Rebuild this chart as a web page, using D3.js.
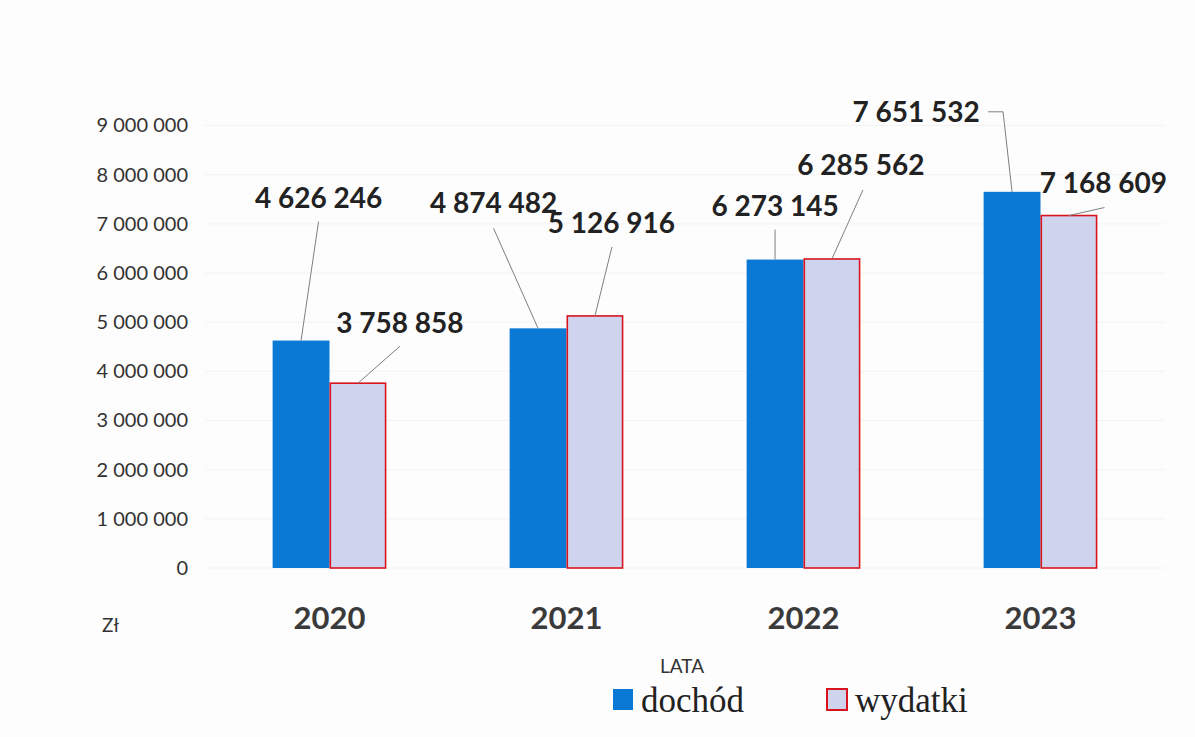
<!DOCTYPE html>
<html>
<head>
<meta charset="utf-8">
<script src="https://cdn.jsdelivr.net/npm/d3@7"></script>
<style>
  body { margin: 0; background: #fdfdfd; }
  svg { display: block; }
</style>
</head>
<body>
<svg id="chart" width="1195" height="737"></svg>
<script>
// Data
const years = ['2020', '2021', '2022', '2023'];
const seriesNames = ['dochód', 'wydatki'];
const dochod = [4626246, 4874482, 6273145, 7651532];
const wydatki = [3758858, 5126916, 6285562, 7168609];
const yTicks = [0, 1000000, 2000000, 3000000, 4000000, 5000000, 6000000, 7000000, 8000000, 9000000];

// Label placement relative to the top centre of each bar: [label dx, label dy, leader points...]
const labelLayout = {
  'dochód': [
    { dx: 17.5, dy: -133, pts: [[17.5, -119]] },
    { dx: -44.5, dy: -115, pts: [[-44.5, -100]] },
    { dx: 0, dy: -44, pts: [[0, -30]] },
    { dx: -96, dy: -70, pts: [[-24, -80], [-9, -80]] },
  ],
  'wydatki': [
    { dx: 42, dy: -50, pts: [[42, -37]] },
    { dx: 16.5, dy: -83, pts: [[17, -69]] },
    { dx: 29, dy: -84, pts: [[31, -69]] },
    { dx: 34.5, dy: -23, pts: [[35.5, -8]] },
  ],
};

const colors = { 'dochód': '#0a79d6', 'wydatki': '#cfd4ee' };
const strokes = { 'dochód': 'none', 'wydatki': '#d9141e' };

const rows = years.map((year, i) => ({ year, 'dochód': dochod[i], 'wydatki': wydatki[i] }));

const svg = d3.select('#chart');
const fmt = d3.formatLocale({ decimal: ',', thousands: ' ', grouping: [3], currency: ['', ''] }).format(',d');

// Scales
const x = d3.scaleBand().domain(years).range([211, 1159]).paddingInner(0.52).paddingOuter(0.26);
const xs = d3.scaleBand().domain(seriesNames).range([0, x.bandwidth()]);
const y = d3.scaleLinear().domain([0, 9000000]).range([568, 125.5]);

// Very faint gridlines
svg.append('g')
  .selectAll('line')
  .data(yTicks)
  .join('line')
  .attr('x1', 205)
  .attr('x2', 1165)
  .attr('y1', (d) => y(d))
  .attr('y2', (d) => y(d))
  .attr('stroke', '#f3f3f3')
  .attr('stroke-width', 1);

// Y axis (labels only)
const yAxis = svg.append('g')
  .attr('transform', 'translate(188,0)')
  .call(d3.axisLeft(y).tickValues(yTicks).tickFormat(fmt).tickSize(0).tickPadding(0));
yAxis.select('.domain').remove();
yAxis.selectAll('text')
  .style('font-family', 'Lato, sans-serif')
  .style('font-size', '20px')
  .attr('fill', '#333');

// Bars
const groups = svg.append('g')
  .selectAll('g')
  .data(rows)
  .join('g')
  .attr('transform', (d) => `translate(${x(d.year)},0)`);

groups.selectAll('rect')
  .data((d) => seriesNames.map((s) => ({ s, v: d[s] })))
  .join('rect')
  .attr('x', (d) => xs(d.s) + (d.s === 'wydatki' ? 0.8 : 0))
  .attr('width', (d) => xs.bandwidth() - (d.s === 'wydatki' ? 1.6 : 0))
  .attr('y', (d) => y(d.v))
  .attr('height', (d) => y(0) - y(d.v))
  .attr('fill', (d) => colors[d.s])
  .attr('stroke', (d) => strokes[d.s])
  .attr('stroke-width', 1.6);

// Data labels with leader lines
const labels = [];
seriesNames.forEach((s) => {
  const values = s === 'dochód' ? dochod : wydatki;
  values.forEach((v, i) => {
    const bx = x(years[i]) + xs(s) + xs.bandwidth() / 2;
    const by = y(v);
    labels.push({ v, bx, by, lay: labelLayout[s][i] });
  });
});

const lbl = svg.append('g');
lbl.selectAll('path')
  .data(labels)
  .join('path')
  .attr('d', (d) => d3.line()([...d.lay.pts.map(([px, py]) => [d.bx + px, d.by + py]), [d.bx, d.by]]))
  .attr('fill', 'none')
  .attr('stroke', '#7f7f7f')
  .attr('stroke-width', 1);

lbl.selectAll('text')
  .data(labels)
  .join('text')
  .attr('x', (d) => d.bx + d.lay.dx)
  .attr('y', (d) => d.by + d.lay.dy)
  .attr('text-anchor', 'middle')
  .style('font-family', 'Lato, sans-serif')
  .style('font-weight', '700')
  .style('font-size', '28px')
  .attr('fill', '#222')
  .text((d) => fmt(d.v));

// Category labels
svg.append('g')
  .selectAll('text')
  .data(years)
  .join('text')
  .attr('x', (d) => x(d) + x.bandwidth() / 2)
  .attr('y', 629)
  .attr('text-anchor', 'middle')
  .style('font-family', 'Lato, sans-serif')
  .style('font-weight', '700')
  .style('font-size', '31px')
  .attr('fill', '#3a3a3a')
  .text((d) => d);

// Axis titles
svg.append('text')
  .attr('x', 102)
  .attr('y', 632)
  .style('font-family', 'Lato, sans-serif')
  .style('font-size', '19px')
  .attr('fill', '#333')
  .text('Zł');

svg.append('text')
  .attr('x', 682)
  .attr('y', 673)
  .attr('text-anchor', 'middle')
  .style('font-family', 'Lato, sans-serif')
  .style('font-size', '19px')
  .attr('fill', '#333')
  .text('LATA');

// Legend
const legendX = [613, 827];
const legend = svg.append('g')
  .selectAll('g')
  .data(seriesNames)
  .join('g')
  .attr('transform', (d, i) => `translate(${legendX[i]},689)`);

legend.append('rect')
  .attr('width', 20)
  .attr('height', 21)
  .attr('fill', (d) => colors[d])
  .attr('stroke', (d) => strokes[d])
  .attr('stroke-width', 2);

legend.append('text')
  .attr('x', 28)
  .attr('y', 23)
  .style('font-family', '"Liberation Serif", "Times New Roman", serif')
  .style('font-size', '35px')
  .attr('fill', '#222')
  .text((d) => d);
</script>
</body>
</html>
